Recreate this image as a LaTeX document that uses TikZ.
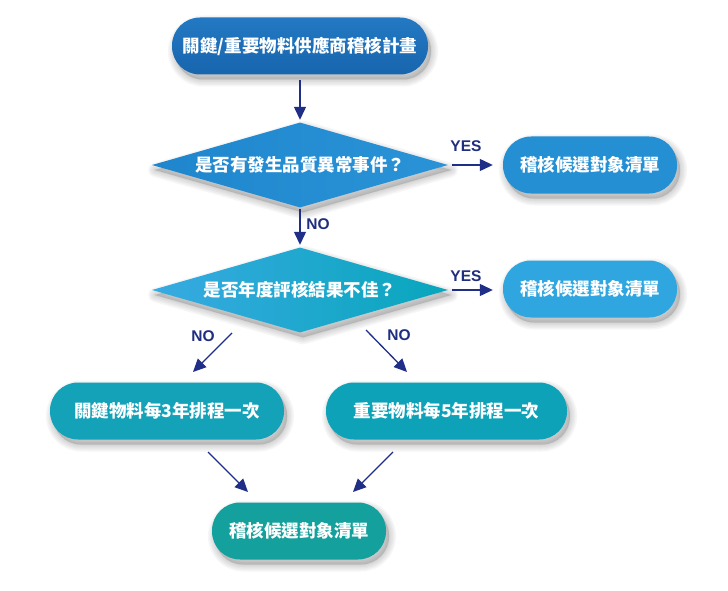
\documentclass[tikz,border=0pt]{standalone}
\usepackage{fontspec}
\newfontfamily\cjk{Noto Sans CJK TC}
\newfontfamily\lat{Liberation Sans}
\usetikzlibrary{shapes.geometric,arrows.meta}
\definecolor{topA}{HTML}{2379C3}
\definecolor{topB}{HTML}{1765AD}
\definecolor{dA}{HTML}{1F86CD}
\definecolor{dB}{HTML}{2A93D7}
\definecolor{rA}{HTML}{2490D3}
\definecolor{dtA}{HTML}{38AAE2}
\definecolor{dtB}{HTML}{08A6BC}
\definecolor{rB}{HTML}{2FA6DF}
\definecolor{tealL}{HTML}{14A2B8}
\definecolor{tealR}{HTML}{0EA2B8}
\definecolor{tealB}{HTML}{14A09C}
\definecolor{arrowc}{HTML}{1F2E86}
\definecolor{labc}{HTML}{1F2E7E}
\definecolor{shade}{HTML}{555555}
\tikzset{
  shlayer/.style={preaction={draw=shade, fill=shade, opacity=0.05, line width=#1, line join=round,
      transform canvas={xshift=3pt,yshift=-5pt}}},
  softshadow/.style={shlayer=14pt, shlayer=11pt, shlayer=8pt, shlayer=5pt, shlayer=2pt},
  base/.style={softshadow, text=white, font=\cjk\bfseries\fontsize{17.5}{20}\selectfont, inner sep=0pt},
  pill/.style={base, rectangle, rounded corners=28pt, minimum height=57pt},
  dia/.style={base, diamond, aspect=3.48, minimum width=296pt, minimum height=85pt},
  arr/.style={draw=arrowc, line width=1.3pt, -{Triangle[length=13pt,width=12pt]}},
  lab/.style={font=\lat\bfseries\fontsize{15.5}{18}\selectfont, text=labc, inner sep=0pt}
}
\begin{document}
\begin{tikzpicture}[x=1pt,y=-1pt]
\useasboundingbox[fill=white] (0,0) rectangle (728,591);
\node[pill, minimum width=256pt, top color=topA, bottom color=topB] (top) at (300,46) {關鍵/重要物料供應商稽核計畫};
\node[dia, left color=dA, right color=dB] (d1) at (300,165) {是否有發生品質異常事件？};
\node[pill, minimum width=174pt, fill=rA] (r1) at (590,165) {稽核候選對象清單};
\node[dia, left color=dtA, right color=dtB] (d2) at (300,290) {是否年度評核結果不佳？};
\node[pill, minimum width=174pt, fill=rB] (r2) at (590,289) {稽核候選對象清單};
\node[pill, minimum width=234pt, fill=tealL] (L) at (167,411) {關鍵物料每3年排程一次};
\node[pill, minimum width=241pt, fill=tealR] (R) at (446.5,411) {重要物料每5年排程一次};
\node[pill, minimum width=174pt, fill=tealB] (B) at (299,531) {稽核候選對象清單};

\coordinate (c1a) at (232,333); \coordinate (c1b) at (193,372);
\coordinate (c2a) at (366,330); \coordinate (c2b) at (407,372);
\coordinate (c3a) at (208,452); \coordinate (c3b) at (248,492);
\coordinate (c4a) at (393,452); \coordinate (c4b) at (353,492);

\draw[arr, shorten <=5.5pt, shorten >=2.5pt] (top) -- (d1);
\draw[arr, shorten <=4pt, shorten >=10pt] (d1.east) -- (r1.west);
\draw[arr, shorten <=1pt, shorten >=2.5pt] (d1.south) -- (d2.north);
\draw[arr, shorten <=4pt, shorten >=10pt] (d2.east) -- (r2.west |- d2.east);
\draw[arr] (c1a) -- (c1b);
\draw[arr] (c2a) -- (c2b);
\draw[arr] (c3a) -- (c3b);
\draw[arr] (c4a) -- (c4b);

\node[lab] (yes1) at (466,146) {YES};
\node[lab] (yes2) at (466,276) {YES};
\node[lab] (no1) at (318,224) {NO};
\node[lab] (no2) at (203,336) {NO};
\node[lab] (no3) at (399,335) {NO};
\end{tikzpicture}
\end{document}
